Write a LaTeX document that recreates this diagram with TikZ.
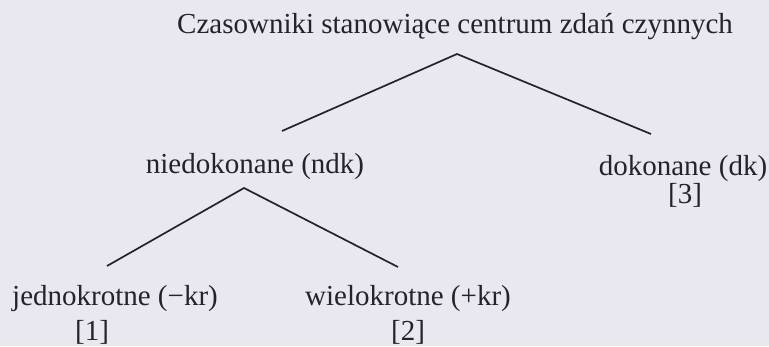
\documentclass[tikz,border=0pt]{standalone}
\usepackage{fontspec}
\setmainfont{Liberation Serif}
\usetikzlibrary{positioning}
\definecolor{paper}{RGB}{233,232,240}
\definecolor{ink}{RGB}{35,35,45}
\tikzset{term/.style={anchor=base,inner sep=0pt,text=ink,font=\fontsize{29}{34}\selectfont},
    branch/.style={draw=ink,line width=1.7pt}}

\begin{document}
\begin{tikzpicture}[x=1pt,y=-1pt]
	\fill[paper] (0,0) rectangle (769,346);
	\useasboundingbox (0,0) rectangle (769,346);
	\node[term] (C) at (455,33) {Czasowniki stanowiące centrum zdań czynnych};
	\node[term] (NDK) at (255,173) {niedokonane (ndk)};
	\node[term] (DK) at (683,175) {dokonane (dk)};
	\node[term] (N3) at (685,203) {[3]};
	\node[term] (JKR) at (115,305) {jednokrotne (−kr)};
	\node[term] (N1) at (92,340) {[1]};
	\node[term] (WKR) at (408,305) {wielokrotne (+kr)};
	\node[term] (N2) at (408,340) {[2]};
	\coordinate (C-top) at (457,54);
	\coordinate (C-left) at (282,131);
	\coordinate (C-right) at (651,134);
	\coordinate (NDK-top) at (244,188);
	\coordinate (NDK-left) at (107,266);
	\coordinate (NDK-right) at (398,267);
	\draw[branch] (C-left) -- (C-top) -- (C-right);
	\draw[branch] (NDK-left) -- (NDK-top) -- (NDK-right);
\end{tikzpicture}
\end{document}
